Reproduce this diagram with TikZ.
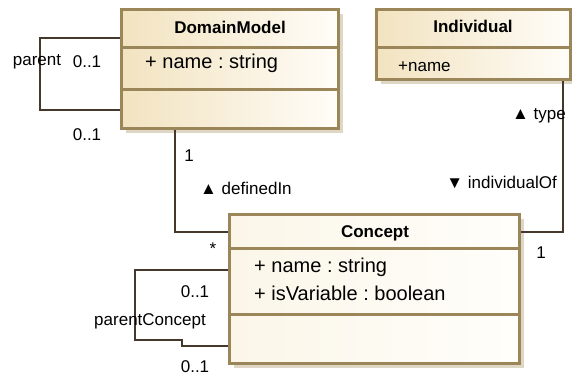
\documentclass[tikz,border=0pt]{standalone}
\usepackage{fontspec}
\setmainfont{Liberation Sans}
\frenchspacing
\usetikzlibrary{shadows}
\definecolor{bord}{HTML}{9A8659}
\definecolor{tanL}{HTML}{F2E3C0}
\definecolor{tanR}{HTML}{FFFDF8}
\definecolor{creamL}{HTML}{FBF6E8}
\definecolor{creamR}{HTML}{FFFEFB}
\definecolor{shad}{HTML}{DED7C6}
\definecolor{conn}{HTML}{45382A}
\begin{document}
\begin{tikzpicture}[x=1pt,y=-1pt,
  classbox/.style={draw=bord, line width=3pt, inner sep=0pt,
    drop shadow={shadow xshift=4pt,shadow yshift=-4pt,fill=shad,opacity=1}},
  sepline/.style={draw=bord,line width=3pt},
  connector/.style={draw=conn,line width=1.4pt},
  title/.style={font=\bfseries\fontsize{17}{20}\selectfont, inner sep=0pt},
  attr/.style={font=\fontsize{20}{24}\selectfont, anchor=west, inner sep=0pt},
  smallattr/.style={font=\fontsize{17}{20}\selectfont, anchor=west, inner sep=0pt},
  lbl/.style={font=\fontsize{17}{20}\selectfont, inner sep=0pt}]
\useasboundingbox[fill=white] (0,0) rectangle (572,375);

% class boxes
\node[classbox, left color=tanL, right color=tanR, minimum width=217pt, minimum height=119pt] (dm) at (230,69) {};
\node[classbox, left color=tanL, right color=tanR, minimum width=194pt, minimum height=70pt] (ind) at (473.5,44.5) {};
\node[classbox, left color=creamL, right color=creamR, minimum width=290pt, minimum height=149pt] (concept) at (374.5,289) {};

% compartment separators
\draw[sepline] (dm.west |- 0,47) -- (dm.east |- 0,47);
\draw[sepline] (dm.west |- 0,89) -- (dm.east |- 0,89);
\draw[sepline] (ind.west |- 0,47) -- (ind.east |- 0,47);
\draw[sepline] (concept.west |- 0,248) -- (concept.east |- 0,248);
\draw[sepline] (concept.west |- 0,314) -- (concept.east |- 0,314);

% texts
\node[title] (dmT) at (230,27) {DomainModel};
\node[attr] (dmA) at (145,63) {+ name : string};
\node[title] (indT) at (473,26) {Individual};
\node[smallattr] (indA) at (398,67) {+name};
\node[title] (conT) at (375,233) {Concept};
\node[attr] (conA1) at (254,267) {+ name : string};
\node[attr] (conA2) at (254,293) {+ isVariable : boolean};

% connectors
\draw[connector] (dm.west |- 0,38) -| (40,110) -- (dm.west |- 0,110);
\draw[connector] (dm.south -| 175,0) |- (concept.west |- 0,232);
\draw[connector] (ind.south -| 563,0) |- (concept.east |- 0,232);
\draw[connector] (concept.west |- 0,270) -| (135,340) -| (182,346) -- (concept.west |- 0,346);

% labels
\node[lbl] (lParent) at (37,62) {parent};
\node[lbl] (lP1) at (87,62) {0..1};
\node[lbl] (lP2) at (87,135) {0..1};
\node[lbl] (lD1) at (189,156) {1};
\node[lbl, anchor=west] (lDef) at (200,188) {▲ definedIn};
\node[lbl, anchor=east] (lType) at (566,116) {▲ type};
\node[lbl, anchor=east] (lIndOf) at (557,182) {▼ individualOf};
\node[lbl] (lStar) at (213,249) {*};
\node[lbl] (lI1) at (541,253) {1};
\node[lbl] (lC1) at (195,292) {0..1};
\node[lbl] (lPC) at (150,321) {parentConcept};
\node[lbl] (lC2) at (195,367) {0..1};
\end{tikzpicture}
\end{document}
